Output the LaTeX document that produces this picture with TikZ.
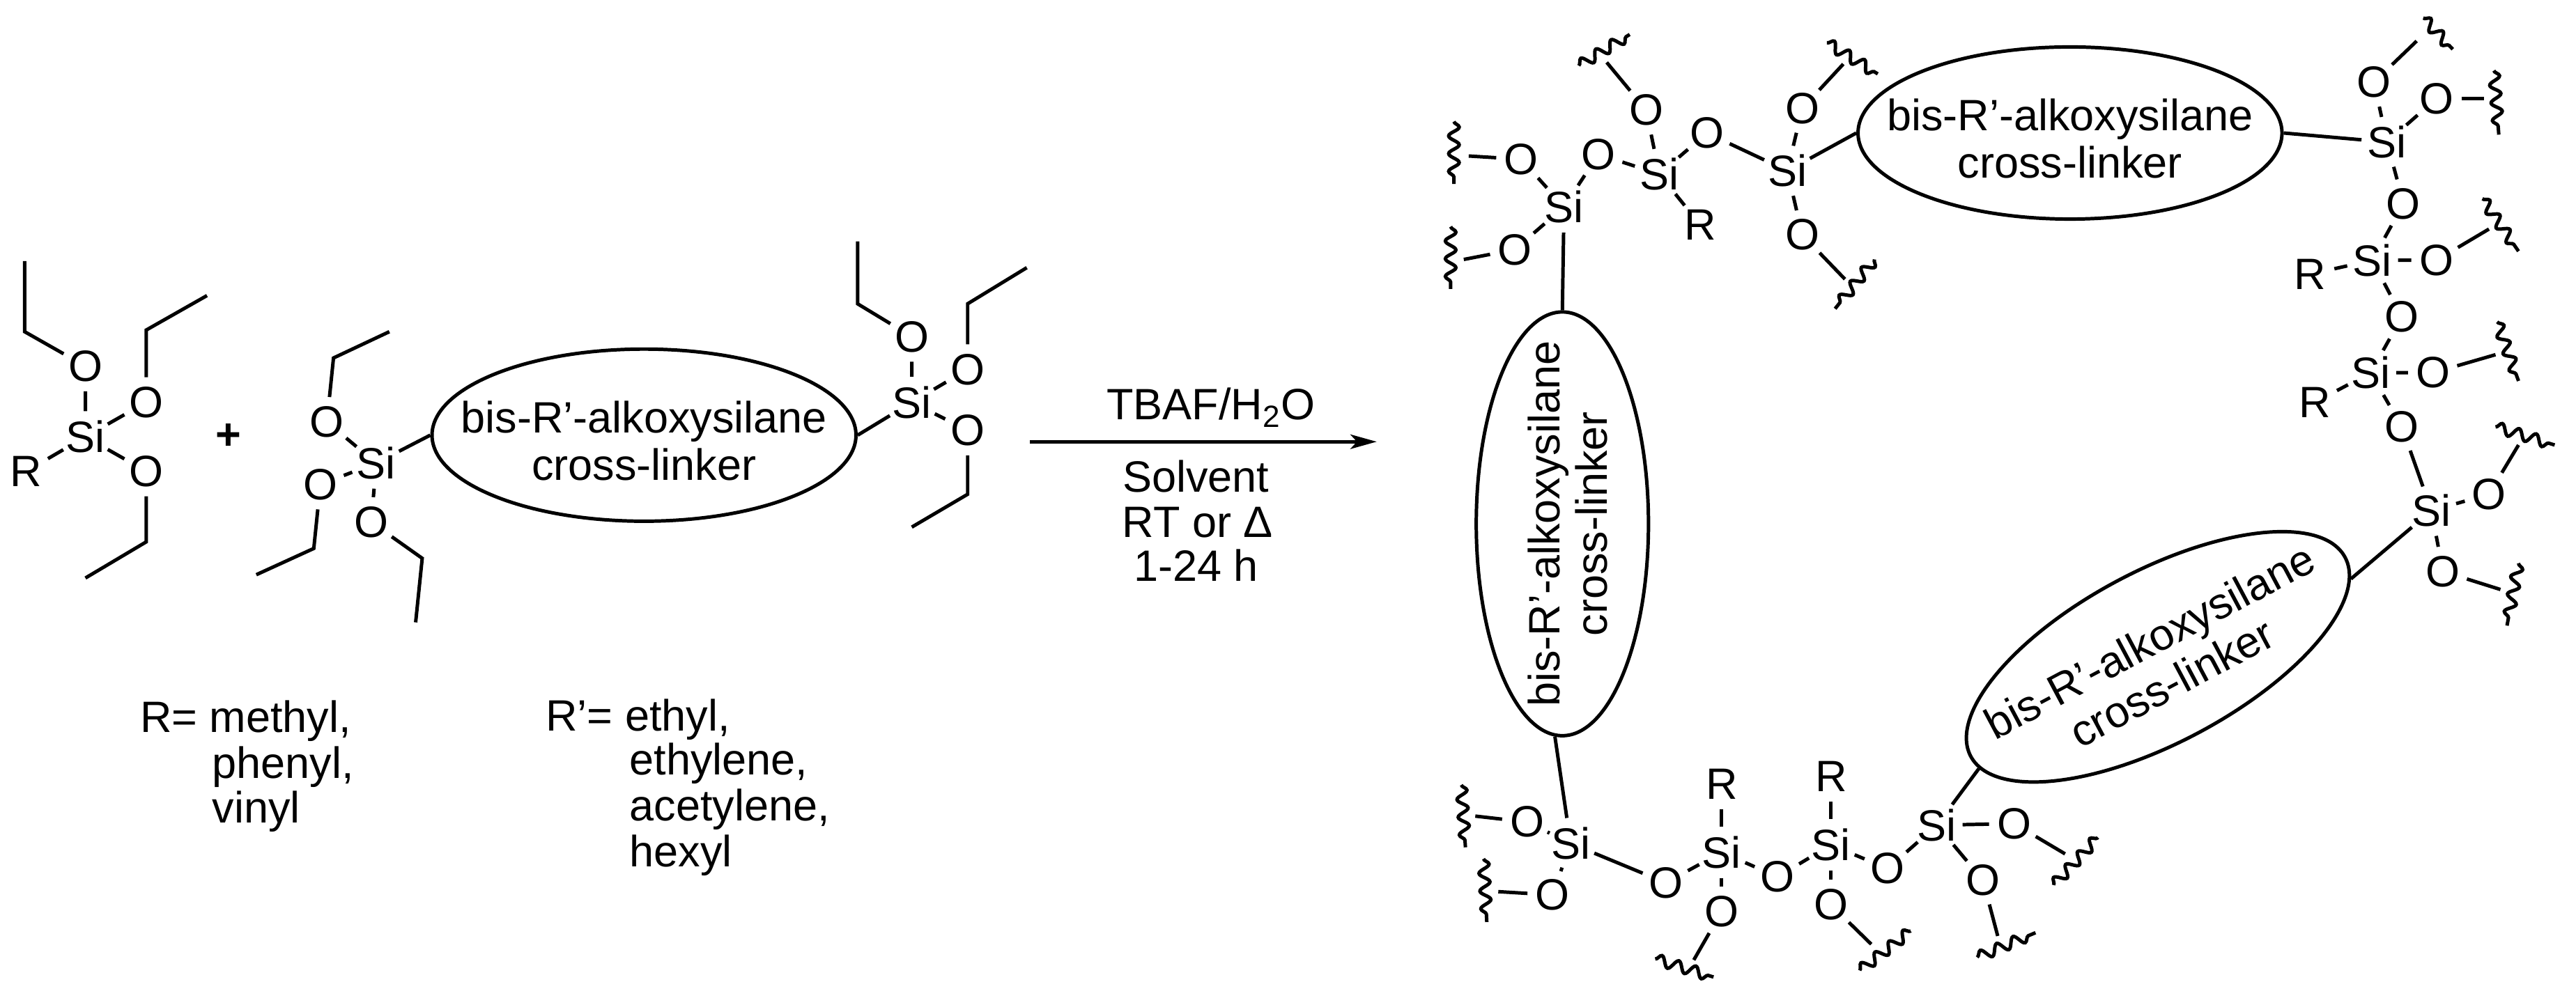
\documentclass[tikz,border=0pt]{standalone}
\usepackage{fontspec}
\setmainfont{Liberation Sans}
\usetikzlibrary{shapes.geometric,decorations.pathmorphing,arrows.meta}
\newcommand{\linkertext}{\rule{0pt}{0.65cm}bis-R’-alkoxysilane\\cross-linker}
\begin{document}
\begin{tikzpicture}[x=0.025cm,y=-0.025cm,
    every node/.style={font=\fontsize{19}{20.5}\selectfont},
    atom/.style={circle, inner sep=0pt, minimum size=0.75cm},
    label/.style={anchor=base west, inner sep=0pt},
    condition/.style={anchor=base, inner sep=0pt},
    linker/.style={draw, ellipse, line width=1.5pt, minimum width=6.45cm, minimum height=2.62cm, inner xsep=-0.6cm, inner ysep=0pt, align=center},
    bond/.style={line width=1.5pt},
    wavy/.style={line width=1.5pt, decorate, decoration={snake, segment length=0.27cm, amplitude=0.08cm}}]
  \useasboundingbox (0,0) rectangle (1568,607.4);
  % silane with R
  \node[atom] (si1) at (52,266) {Si};
  \node[atom] (r1) at (16,287) {R};
  \node[atom] (o1a) at (52,223) {O};
  \node[atom] (o1b) at (89,245) {O};
  \node[atom] (o1c) at (89,287) {O};
  \coordinate (c1a) at (15,202); \coordinate (d1a) at (15,159);
  \coordinate (c1b) at (89,201); \coordinate (d1b) at (126,180);
  \coordinate (c1c) at (89,330); \coordinate (d1c) at (52,352);
  \draw[bond] (si1) -- (r1);
  \draw[bond] (si1) -- (o1a) -- (c1a) -- (d1a);
  \draw[bond] (si1) -- (o1b) -- (c1b) -- (d1b);
  \draw[bond] (si1) -- (o1c) -- (c1c) -- (d1c);
  \node (plus) at (139,266) {\textbf{+}};
  % bis-silane
  \node[linker] (linka) at (392,265) {\linkertext};
  \node[atom] (si2) at (229,282) {Si};
  \node[atom] (o2a) at (199,257) {O};
  \node[atom] (o2b) at (195,295) {O};
  \node[atom] (o2c) at (226,318) {O};
  \coordinate (c2a) at (203,218); \coordinate (d2a) at (237,202);
  \coordinate (c2b) at (191,334); \coordinate (d2b) at (156,350);
  \coordinate (c2c) at (257,340); \coordinate (d2c) at (253,379);
  \draw[bond] (si2) -- (o2a) -- (c2a) -- (d2a);
  \draw[bond] (si2) -- (o2b) -- (c2b) -- (d2b);
  \draw[bond] (si2) -- (o2c) -- (c2c) -- (d2c);
  \draw[bond] (si2) -- (linka.west);
  \node[atom] (si3) at (555,245) {Si};
  \node[atom] (o3a) at (555,205) {O};
  \node[atom] (o3b) at (589,225) {O};
  \node[atom] (o3c) at (589,262) {O};
  \coordinate (c3a) at (522,185); \coordinate (d3a) at (522,147);
  \coordinate (c3b) at (589,185); \coordinate (d3b) at (625,163);
  \coordinate (c3c) at (589,301); \coordinate (d3c) at (555,321);
  \draw[bond] (si3) -- (o3a) -- (c3a) -- (d3a);
  \draw[bond] (si3) -- (o3b) -- (c3b) -- (d3b);
  \draw[bond] (si3) -- (o3c) -- (c3c) -- (d3c);
  \draw[bond] (si3) -- (linka.east);
  % substituents
  \node[label] (rlabel) at (85,446) {R= methyl,};
  \node[label] (rlabelb) at (129,474) {phenyl,};
  \node[label] (rlabelc) at (129,501) {vinyl};
  \node[label] (plabel) at (332,445) {R’= ethyl,};
  \node[label] (plabelb) at (383,472) {ethylene,};
  \node[label] (plabelc) at (383,500) {acetylene,};
  \node[label] (plabeld) at (383,528) {hexyl};
  % reaction arrow
  \coordinate (arrowstart) at (627,269);
  \coordinate (arrowend) at (838,269);
  \draw[bond,-{Stealth[length=0.4cm,width=0.22cm,inset=0.1cm]}] (arrowstart) -- (arrowend);
  \node[condition] (reagent) at (737,255.5) {TBAF/H\textsubscript{2}O};
  \node[condition] (solvent) at (728,299.5) {Solvent};
  \node[condition] (temp) at (729,327) {RT or Δ};
  \node[condition] (hours) at (728,354) {1-24 h};
  % network
  \node[linker] (linkb) at (1260,81) {\linkertext};
  \node[linker,rotate=90] (linkc) at (951,319) {\linkertext};
  \node[linker,rotate=28] (linkd) at (1313.5,400) {\linkertext};
  \node[atom] (sia) at (952,126) {Si};
  \node[atom] (oa1) at (926,97) {O};
  \node[atom] (oa2) at (922,152) {O};
  \node[atom] (oa3) at (973,94) {O};
  \node[atom] (sib) at (1010,106) {Si};
  \node[atom] (ob1) at (1002,67) {O};
  \node[atom] (ob2) at (1039,81) {O};
  \node[atom] (rb) at (1035,137) {R};
  \node[atom] (sic) at (1088,104) {Si};
  \node[atom] (oc1) at (1097,66) {O};
  \node[atom] (oc2) at (1097,143) {O};
  \node[atom] (sid) at (1453,86.5) {Si};
  \node[atom] (od1) at (1445,50) {O};
  \node[atom] (od2) at (1483,60) {O};
  \node[atom] (od3) at (1463,124) {O};
  \node[atom] (sie) at (1444,158.5) {Si};
  \node[atom] (re) at (1406,167) {R};
  \node[atom] (oe1) at (1483,158.5) {O};
  \node[atom] (oe2) at (1462,193) {O};
  \node[atom] (sif) at (1443,227) {Si};
  \node[atom] (rf) at (1409,245) {R};
  \node[atom] (of1) at (1481,227) {O};
  \node[atom] (of2) at (1462,260) {O};
  \node[atom] (sig) at (1480,311) {Si};
  \node[atom] (og1) at (1515,301) {O};
  \node[atom] (og2) at (1487,348) {O};
  \node[atom] (sih) at (956,513.6) {Si};
  \node[atom] (oh1) at (929.5,500.6) {O};
  \node[atom] (oh2) at (945,545) {O};
  \node[atom] (oh3) at (1014,537.6) {O};
  \node[atom] (sii) at (1048,519) {Si};
  \node[atom] (ri) at (1048,477.6) {R};
  \node[atom] (oi1) at (1048,555) {O};
  \node[atom] (oi2) at (1082,534) {O};
  \node[atom] (sij) at (1114.5,514.5) {Si};
  \node[atom] (rj) at (1114.5,473) {R};
  \node[atom] (oj1) at (1114.5,551) {O};
  \node[atom] (oj2) at (1149,529) {O};
  \node[atom] (sik) at (1179,502.5) {Si};
  \node[atom] (ok1) at (1226,501.6) {O};
  \node[atom] (ok2) at (1207,536) {O};
  % skeleton
  \draw[bond] (oa1) -- (sia) -- (oa3) -- (sib) -- (ob2) -- (sic) -- (linkb.west);
  \draw[bond] (oa2) -- (sia) -- (linkc.east);
  \draw[bond] (ob1) -- (sib) -- (rb);
  \draw[bond] (oc1) -- (sic) -- (oc2);
  \draw[bond] (linkb.east) -- (sid) -- (od3) -- (sie) -- (oe2) -- (sif) -- (of2) -- (sig) -- (linkd.-6);
  \draw[bond] (od1) -- (sid) -- (od2);
  \draw[bond] (re) -- (sie) -- (oe1);
  \draw[bond] (rf) -- (sif) -- (of1);
  \draw[bond] (og1) -- (sig) -- (og2);
  \draw[bond] (linkc.178) -- (sih) -- (oh3) -- (sii) -- (oi2) -- (sij) -- (oj2) -- (sik) -- (linkd.184);
  \draw[bond] (oh1) -- (sih) -- (oh2);
  \draw[bond] (ri) -- (sii) -- (oi1);
  \draw[bond] (rj) -- (sij) -- (oj1);
  \draw[bond] (ok1) -- (sik) -- (ok2);
  % free ends
  \coordinate (ea1) at (894,95); \coordinate (ea2) at (891,158);
  \coordinate (eb1) at (978,38);
  \coordinate (ec1) at (1122,39); \coordinate (ec2) at (1123,170);
  \coordinate (ed1) at (1471,25); \coordinate (ed2) at (1512,60);
  \coordinate (ee1) at (1515,139.5);
  \coordinate (ef1) at (1519,216);
  \coordinate (eg1) at (1533,271); \coordinate (eg2) at (1522,359);
  \coordinate (eh1) at (898,497); \coordinate (eh2) at (912,543);
  \coordinate (ei1) at (1031,584.6);
  \coordinate (ej1) at (1139,575);
  \coordinate (ek1) at (1257,520); \coordinate (ek2) at (1216,570);
  \draw[bond] (oa1) -- (ea1);
  \draw[bond] (oa2) -- (ea2);
  \draw[bond] (ob1) -- (eb1);
  \draw[bond] (oc1) -- (ec1);
  \draw[bond] (oc2) -- (ec2);
  \draw[bond] (od1) -- (ed1);
  \draw[bond] (od2) -- (ed2);
  \draw[bond] (oe1) -- (ee1);
  \draw[bond] (of1) -- (ef1);
  \draw[bond] (og1) -- (eg1);
  \draw[bond] (og2) -- (eg2);
  \draw[bond] (oh1) -- (eh1);
  \draw[bond] (oh2) -- (eh2);
  \draw[bond] (oi1) -- (ei1);
  \draw[bond] (oj1) -- (ej1);
  \draw[bond] (ok1) -- (ek1);
  \draw[bond] (ok2) -- (ek2);
  % wavy cuts
  \coordinate (wa1) at (885,74); \coordinate (wa2) at (885,112);
  \coordinate (wa3) at (883,138); \coordinate (wa4) at (883,176);
  \coordinate (wb1) at (961,40); \coordinate (wb2) at (992,21);
  \coordinate (wc1) at (1112,26); \coordinate (wc2) at (1143,45);
  \coordinate (wc3) at (1141,158); \coordinate (wc4) at (1117,188);
  \coordinate (wd1) at (1475,11); \coordinate (wd2) at (1493,30);
  \coordinate (wd3) at (1518,43); \coordinate (wd4) at (1521,82);
  \coordinate (we1) at (1511,121); \coordinate (we2) at (1533,153);
  \coordinate (wf1) at (1520,196); \coordinate (wf2) at (1533,232);
  \coordinate (wg1) at (1519,260); \coordinate (wg2) at (1555,271);
  \coordinate (wg3) at (1533,343); \coordinate (wg4) at (1526,381);
  \coordinate (wh1) at (889.5,478); \coordinate (wh2) at (892,516);
  \coordinate (wh3) at (903,523); \coordinate (wh4) at (905,561.5);
  \coordinate (wi1) at (1007.5,584); \coordinate (wi2) at (1043,595);
  \coordinate (wj1) at (1132,591); \coordinate (wj2) at (1163,567);
  \coordinate (wk1) at (1250,539); \coordinate (wk2) at (1277,510);
  \coordinate (wk3) at (1203.5,583); \coordinate (wk4) at (1239,568);
  \draw[wavy] (wa1) -- (wa2);
  \draw[wavy] (wa3) -- (wa4);
  \draw[wavy] (wb1) -- (wb2);
  \draw[wavy] (wc1) -- (wc2);
  \draw[wavy] (wc3) -- (wc4);
  \draw[wavy] (wd1) -- (wd2);
  \draw[wavy] (wd3) -- (wd4);
  \draw[wavy] (we1) -- (we2);
  \draw[wavy] (wf1) -- (wf2);
  \draw[wavy] (wg1) -- (wg2);
  \draw[wavy] (wg3) -- (wg4);
  \draw[wavy] (wh1) -- (wh2);
  \draw[wavy] (wh3) -- (wh4);
  \draw[wavy] (wi1) -- (wi2);
  \draw[wavy] (wj1) -- (wj2);
  \draw[wavy] (wk1) -- (wk2);
  \draw[wavy] (wk3) -- (wk4);
\end{tikzpicture}
\end{document}
